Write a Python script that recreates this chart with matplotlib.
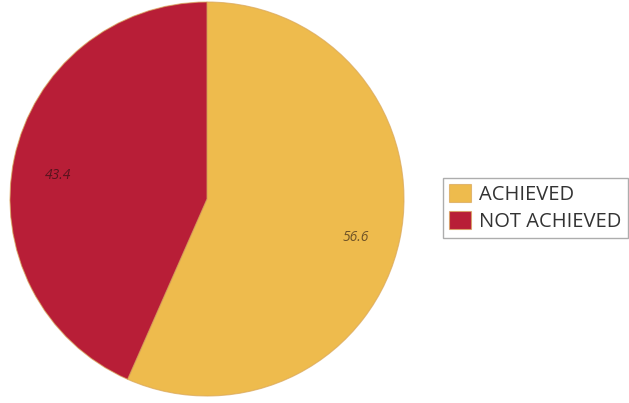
import matplotlib.pyplot as plt

categories = ['ACHIEVED', 'NOT ACHIEVED']
values = [56.6, 43.4]
colors = ['#EEBB4D', '#B81E37']

plt.rcParams['font.family'] = ['Open Sans', 'DejaVu Sans']

fig = plt.figure(figsize=(6.29, 4.03), dpi=100)
# pie centre ~ (207, 199) px, radius ~197 px
ax = fig.add_axes([10 / 629, 7 / 403, 394 / 629, 394 / 403])

wedges, texts, autotexts = ax.pie(
    values, colors=colors, startangle=90, counterclock=False,
    autopct=lambda p: f'{p:.1f}', pctdistance=0.77,
    wedgeprops=dict(edgecolor=(0.85, 0.65, 0.35, 0.7), linewidth=0.8),
    textprops=dict(fontsize=10, style='italic', color=(0.1, 0.05, 0.05, 0.6)))
for t in autotexts:
    t.set_va('top')
ax.set_xlim(-1, 1)
ax.set_ylim(-1, 1)
ax.set_aspect('equal')

fig.legend(wedges, categories, loc='upper left', bbox_to_anchor=(443 / 629, 1 - 178 / 403),
           fontsize=14.5, frameon=True, fancybox=False, edgecolor='#999999',
           labelcolor='#333333',
           handlelength=1.1, handleheight=1.0, handletextpad=0.4,
           labelspacing=0.3, borderpad=0.3, borderaxespad=0)

fig.savefig('out.png', dpi=100)
